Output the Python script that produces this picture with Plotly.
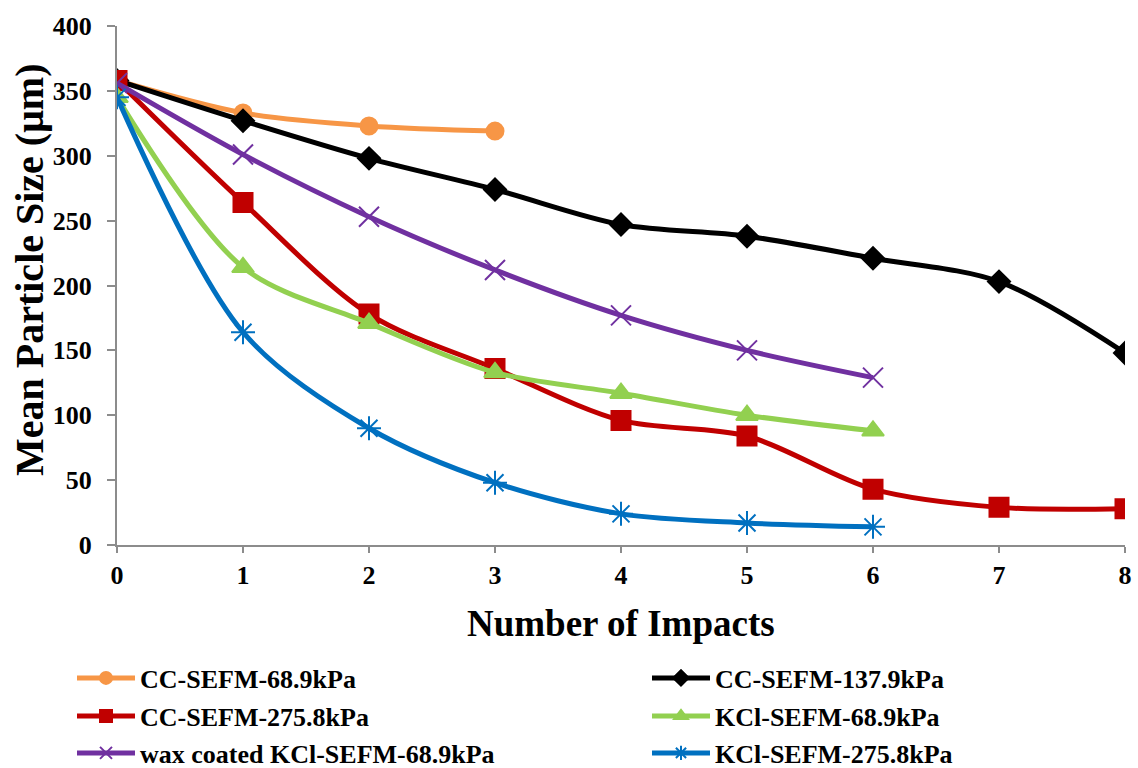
import plotly.graph_objects as go

impacts = [0, 1, 2, 3, 4, 5, 6, 7, 8]

cc_68 = [358, 333, 323, 319]
cc_137 = [358, 327, 298, 274, 247, 238, 221, 203, 148]
cc_275 = [358, 264, 178, 136, 96, 84, 43, 29, 28]
kcl_68 = [345, 214, 171, 133, 117, 100, 88]
wax_kcl_68 = [356, 301, 253, 212, 177, 150, 129]
kcl_275 = [345, 164, 90, 48, 24, 17, 14]

names = ["CC-SEFM-68.9kPa", "CC-SEFM-137.9kPa", "CC-SEFM-275.8kPa",
         "KCl-SEFM-68.9kPa", "wax coated KCl-SEFM-68.9kPa", "KCl-SEFM-275.8kPa"]
series = [cc_68, cc_137, cc_275, kcl_68, wax_kcl_68, kcl_275]
colors = ["#F79646", "#000000", "#C00000", "#92D050", "#7030A0", "#0070C0"]
symbols = ["circle", "diamond", "square", "triangle-up", "x-thin-open", "asterisk-open"]
msizes = [17, 17, 19, 19, 20, 20]

FONT = "Liberation Serif"
W, H = 1138, 768

fig = go.Figure()
legend_layout = {}
row_y = [678, 678, 716, 716, 753, 753]
col_x = [72, 647, 72, 647, 72, 647]
for i, (name, vals, col, sym, ms) in enumerate(zip(names, series, colors, symbols, msizes)):
    lg = "legend" if i == 0 else f"legend{i + 1}"
    fig.add_trace(go.Scatter(
        x=impacts[:len(vals)], y=vals, name=name, mode="lines+markers",
        line=dict(color=col, width=5, shape="spline", smoothing=0.9),
        marker=dict(symbol=sym, size=ms, color=col, line=dict(color=col, width=2)),
        legend=lg, showlegend=True,
    ))
    legend_layout[lg] = dict(
        xref="container", yref="container",
        x=col_x[i] / W, y=1 - row_y[i] / H,
        xanchor="left", yanchor="middle",
        font=dict(family=FONT, size=26, color="black", weight="bold"),
        bgcolor="rgba(0,0,0,0)", itemwidth=58, itemsizing="constant", visible=True,
    )

fig.update_layout(
    width=W, height=H,
    paper_bgcolor="white", plot_bgcolor="white",
    margin=dict(l=117, r=13, t=26, b=223, autoexpand=False),
    showlegend=True,
    font=dict(family=FONT, color="black"),
    xaxis=dict(
        range=[0, 8], tickvals=impacts, ticktext=[str(i) for i in impacts],
        automargin=False,
        showline=True, linecolor="#8c8c8c", linewidth=2, mirror=False,
        ticks="outside", ticklen=6, tickcolor="#8c8c8c", tickwidth=2,
        showgrid=False, zeroline=False,
        tickfont=dict(family=FONT, size=26, color="black", weight="bold"),
    ),
    yaxis=dict(
        range=[0, 400], tickvals=[0, 50, 100, 150, 200, 250, 300, 350, 400],
        automargin=False,
        showline=True, linecolor="#8c8c8c", linewidth=2,
        ticks="outside", ticklen=8, tickcolor="#8c8c8c", tickwidth=2,
        ticklabelstandoff=10,
        showgrid=False, zeroline=False,
        tickfont=dict(family=FONT, size=26, color="black", weight="bold"),
    ),
    annotations=[
        dict(text="Number of Impacts", xref="paper", yref="paper",
             x=0.5, y=-(623 - 545) / (H - 26 - 223), xanchor="center", yanchor="middle",
             showarrow=False, font=dict(family=FONT, size=37, color="black", weight="bold")),
        dict(text="Mean Particle Size (μm)", xref="paper", yref="paper",
             x=-(117 - 29) / (W - 117 - 13), y=(545 - 270) / (H - 26 - 223),
             xanchor="center", yanchor="middle", textangle=-90,
             showarrow=False, font=dict(family=FONT, size=40, color="black", weight="bold")),
    ],
    **legend_layout,
)

fig.write_html("out.html", config={"displayModeBar": False},
               post_script="document.body.style.margin='0px';")
